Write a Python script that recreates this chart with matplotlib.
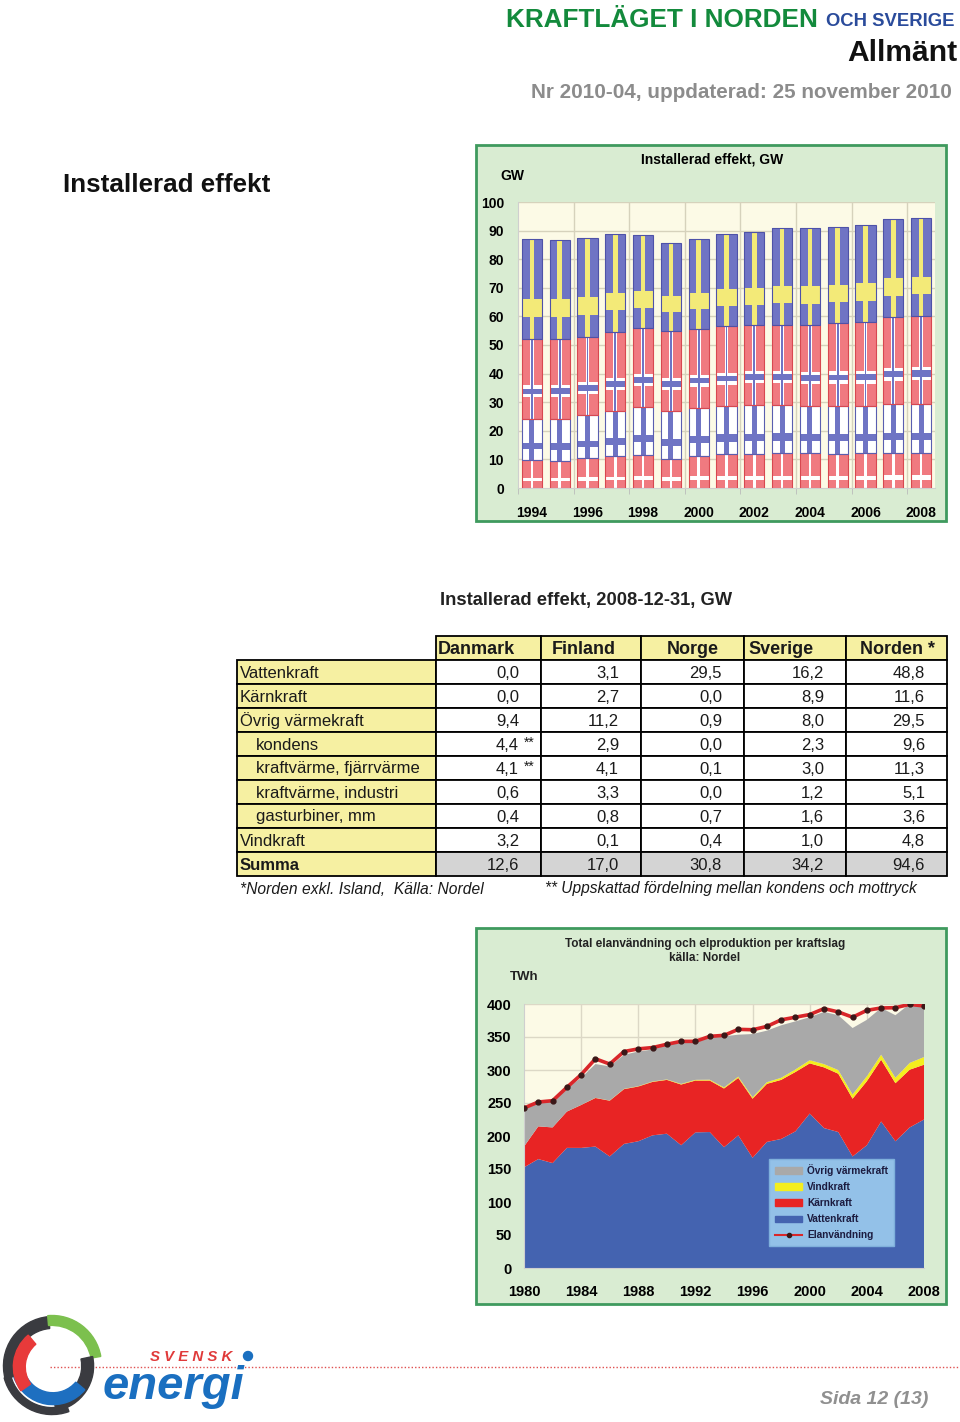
import numpy as np
import matplotlib
matplotlib.use("Agg")
import matplotlib.pyplot as plt
from matplotlib import font_manager
from matplotlib.patches import Rectangle, Wedge, Circle
from matplotlib.lines import Line2D
from matplotlib.patches import Patch

plt.rcParams['font.family'] = ['Liberation Sans', 'DejaVu Sans']

names = {f.name for f in font_manager.fontManager.ttflist}
if 'Liberation Sans Narrow' in names:
    narrow = ['Liberation Sans Narrow', 'DejaVu Sans']
    tsize = 15.5
else:
    narrow = ['Liberation Sans', 'DejaVu Sans']
    tsize = 12

# --- installed capacity per country (GW), 1994-2008
bar_years = np.arange(1994, 2009)
danmark_gw = np.array([9.9, 9.6, 10.4, 11.1, 11.7, 10.3, 11.2, 11.9, 11.9, 12.1, 12.1, 12.0, 12.1, 12.2, 12.3])
finland_gw = np.array([14.2, 14.6, 15.0, 15.7, 16.5, 16.5, 16.8, 16.7, 17.2, 17.0, 16.5, 16.6, 16.5, 17.2, 17.1])
norge_gw = np.array([28.0, 27.9, 27.5, 27.7, 27.7, 28.0, 27.6, 27.9, 27.9, 28.0, 28.4, 29.0, 29.4, 30.3, 30.8])
sverige_gw = np.array([35.1, 34.7, 34.6, 34.4, 32.4, 31.0, 31.5, 32.3, 32.4, 33.7, 33.8, 33.5, 34.1, 34.5, 34.3])

# --- table, 2008-12-31
table_cols = ['Danmark', 'Finland', 'Norge', 'Sverige', 'Norden *']
table_rows = ['Vattenkraft', 'Kärnkraft', 'Övrig värmekraft', 'kondens',
              'kraftvärme, fjärrvärme', 'kraftvärme, industri', 'gasturbiner, mm',
              'Vindkraft', 'Summa']
tab_danmark = [0.0, 0.0, 9.4, 4.4, 4.1, 0.6, 0.4, 3.2, 12.6]
tab_finland = [3.1, 2.7, 11.2, 2.9, 4.1, 3.3, 0.8, 0.1, 17.0]
tab_norge = [29.5, 0.0, 0.9, 0.0, 0.1, 0.0, 0.7, 0.4, 30.8]
tab_sverige = [16.2, 8.9, 8.0, 2.3, 3.0, 1.2, 1.6, 1.0, 34.2]
tab_norden = [48.8, 11.6, 29.5, 9.6, 11.3, 5.1, 3.6, 4.8, 94.6]

# --- production per source and consumption (TWh), 1980-2008
area_years = np.arange(1980, 2009)
vattenkraft = [152.5, 165, 159, 182, 182, 184, 169, 188, 192, 201, 203.5, 186, 205.5, 206, 183,
               201, 167, 191, 195.5, 207, 234, 212, 206, 169, 186, 222, 192, 213, 225]
karnkraft = [31.5, 49.6, 54, 55, 65, 73.6, 84.5, 83, 83, 81, 81.5, 92, 78.5, 78, 89,
             87, 89.5, 88, 89.5, 90, 76, 92, 88.4, 87.5, 97, 93.6, 88, 87.5, 83]
vindkraft = [0, 0, 0, 0, 0.1, 0.2, 0.3, 0.4, 0.5, 0.6, 0.7, 0.9, 1.1, 1.3, 1.6,
             1.9, 2.2, 2.5, 3.2, 3.8, 4.8, 4.9, 5.5, 6.4, 7.5, 7.6, 8.2, 10.2, 11.6]
ovrig = [56, 35.4, 39.5, 35.7, 40.9, 51.2, 51.7, 51.6, 52.5, 48.4, 52.3, 62.1, 55.9, 65.7, 77.4,
         63.6, 95.8, 78.1, 79.5, 72.9, 65.2, 79.1, 83.1, 100.7, 85.5, 70.8, 94.8, 89.3, 76.4]
elanvandning = [242.4, 251.5, 253.5, 273.7, 293, 317, 309, 328, 332, 334, 339, 343.4, 343.4, 351, 352.5,
                361.6, 361, 366, 376, 380, 384, 393, 388, 380, 390.4, 394, 394.4, 399.5, 397]

W, H = 960, 1422
fig = plt.figure(figsize=(W / 100, H / 100), dpi=100)


def box(x0, y0, x1, y1):
    return [x0 / W, 1 - y1 / H, (x1 - x0) / W, (y1 - y0) / H]


def fit(t, target):
    # scale a text so that it takes the given width in pixels
    r = fig.canvas.get_renderer()
    w = t.get_window_extent(r).width
    t.set_fontsize(t.get_fontsize() * target / w)


page = fig.add_axes([0, 0, 1, 1])
page.set_xlim(0, W)
page.set_ylim(H, 0)
page.axis('off')

# header
page.text(955, 22, 'OCH SVERIGE', color='#2a4b9b', fontsize=13.3, fontweight='bold', ha='right', va='center')
page.text(818, 20, 'KRAFTLÄGET I NORDEN', color='#138a3c', fontsize=18.8, fontweight='bold', ha='right', va='center')
page.text(957, 53, 'Allmänt', color='#111111', fontsize=21.6, fontweight='bold', ha='right', va='center')
page.text(952, 92, 'Nr 2010-04, uppdaterad: 25 november 2010', color='#8c8c8c', fontsize=14.9,
          fontweight='bold', ha='right', va='center')
page.text(63, 185, 'Installerad effekt', color='#111111', fontsize=18.7, fontweight='bold', ha='left', va='center')

# chart frames
for y0, y1 in [(145, 521), (928, 1304)]:
    page.add_patch(Rectangle((476, y0), 470, y1 - y0, facecolor='#d9ecd2', edgecolor='#3f9a5e', lw=2))

# ---------------- top chart: flags
ax1 = fig.add_axes(box(518, 202, 935, 488))
ax1.set_facecolor('#fcfae6')
bw = 0.73


def flag(bottom, vals, base, cross, h0, h1, vw, edge, inner=None):
    ax1.bar(bar_years, vals, bw, bottom=bottom, color=base, lw=0, zorder=2)
    ax1.bar(bar_years, vals * (h1 - h0), bw, bottom=bottom + vals * h0, color=cross, lw=0, zorder=2)
    ax1.bar(bar_years, vals, bw * vw, bottom=bottom, color=cross, lw=0, zorder=2)
    if inner:
        c, i0, i1, iw = inner
        ax1.bar(bar_years, vals * (i1 - i0), bw, bottom=bottom + vals * i0, color=c, lw=0, zorder=2)
        ax1.bar(bar_years, vals, bw * iw, bottom=bottom, color=c, lw=0, zorder=2)
    ax1.bar(bar_years, vals, bw, bottom=bottom, fill=False, edgecolor=edge, lw=0.8, zorder=3)


red_f = '#f07a80'
blue_f = '#6f74c4'
b0 = np.zeros(len(bar_years))
flag(b0, danmark_gw, red_f, 'white', 0.24, 0.36, 0.12, '#d84850')
b1 = b0 + danmark_gw
flag(b1, finland_gw, 'white', blue_f, 0.26, 0.41, 0.25, '#5a5eb0')
b2 = b1 + finland_gw
flag(b2, norge_gw, red_f, 'white', 0.27, 0.42, 0.18, '#d84850', inner=(blue_f, 0.31, 0.38, 0.08))
b3 = b2 + norge_gw
flag(b3, sverige_gw, blue_f, '#f3ea78', 0.22, 0.40, 0.22, '#4e52a8')

ax1.set_xlim(1993.5, 2008.5)
ax1.set_ylim(0, 100)
ax1.set_yticks(np.arange(0, 101, 10))
ax1.set_xticks(bar_years[::2])
ax1.set_xticks(np.arange(1993.5, 2009, 2), minor=True)
ax1.grid(False)
for v in np.arange(10, 101, 10):
    ax1.axhline(v, color='#d6d2bc', lw=1, zorder=1)
for v in np.arange(1995.5, 2008, 2):
    ax1.axvline(v, color='#d6d2bc', lw=1, zorder=1)
ax1.tick_params(axis='both', which='major', labelsize=10, length=0, pad=10)
ax1.tick_params(axis='x', which='major', pad=13)
ax1.tick_params(axis='x', which='minor', length=4, color='#bbbbbb')
for lab in ax1.get_xticklabels() + ax1.get_yticklabels():
    lab.set_fontweight('bold')
for s in ['top', 'right']:
    ax1.spines[s].set_visible(False)
for s in ['left', 'bottom']:
    ax1.spines[s].set_color('#cfcfcf')
page.text(712, 160, 'Installerad effekt, GW', fontsize=10, fontweight='bold', ha='center', va='center')
page.text(512, 176, 'GW', fontsize=10, fontweight='bold', ha='center', va='center')

# ---------------- table
page.text(586, 600, 'Installerad effekt, 2008-12-31, GW', fontsize=13.2, fontweight='bold',
          ha='center', va='center', color='#222222')
col_edges = [237, 436, 541, 641, 744, 846, 947]
row_top = 636
row_h = 24
yellow = '#f6f0a2'
head_x = [438, 552, 667, 748, 860]
for j, name in enumerate(table_cols):
    page.add_patch(Rectangle((col_edges[j + 1], row_top), col_edges[j + 2] - col_edges[j + 1], row_h,
                             facecolor=yellow, edgecolor='black', lw=1.3))
    page.text(head_x[j], row_top + row_h / 2 + 1, name, fontsize=tsize + 1, fontweight='bold',
              family=narrow, ha='left', va='center', color='#1a1a1a')
cols = [tab_danmark, tab_finland, tab_norge, tab_sverige, tab_norden]
for i, rname in enumerate(table_rows):
    y = row_top + row_h * (i + 1)
    summa = rname == 'Summa'
    page.add_patch(Rectangle((col_edges[0], y), col_edges[1] - col_edges[0], row_h,
                             facecolor=yellow, edgecolor='black', lw=1.3))
    indent = 19 if 3 <= i <= 6 else 3
    page.text(col_edges[0] + indent, y + row_h / 2 + 1, rname, fontsize=tsize, family=narrow,
              fontweight='bold' if summa else 'normal', ha='left', va='center', color='#1a1a1a')
    for j, c in enumerate(cols):
        page.add_patch(Rectangle((col_edges[j + 1], y), col_edges[j + 2] - col_edges[j + 1], row_h,
                                 facecolor='#d4d4d4' if summa else 'white', edgecolor='black', lw=1.3))
        page.text(col_edges[j + 2] - 22, y + row_h / 2 + 1, f'{c[i]:.1f}'.replace('.', ','),
                  fontsize=tsize, family=narrow, ha='right', va='center', color='#1a1a1a')
    if rname in ('kondens', 'kraftvärme, fjärrvärme'):
        page.text(col_edges[2] - 17, y + row_h / 2 - 1, '**', fontsize=tsize - 2, family=narrow,
                  ha='left', va='center', color='#1a1a1a')
fn1 = page.text(240, 889, '*Norden exkl. Island,  Källa: Nordel', fontsize=12, family=narrow,
                style='italic', ha='left', va='center', color='#1a1a1a')
fn2 = page.text(545, 889, '** Uppskattad fördelning mellan kondens och mottryck', fontsize=12,
                family=narrow, style='italic', ha='left', va='center', color='#1a1a1a')
fit(fn1, 242)
fit(fn2, 372)

# ---------------- bottom chart: areas
ax2 = fig.add_axes(box(524, 1004, 924, 1268))
ax2.set_facecolor('#fcfae6')
for v in np.arange(50, 401, 50):
    ax2.axhline(v, color='#dcd8c6', lw=1, zorder=0)
for v in np.arange(1984, 2008, 4):
    ax2.axvline(v, color='#dcd8c6', lw=1, zorder=0)
ax2.stackplot(area_years, vattenkraft, karnkraft, vindkraft, ovrig,
              colors=['#4463b0', '#e82424', '#f4ee1e', '#a9a9a9'], lw=0, zorder=2)
ax2.plot(area_years, elanvandning, color='#d9262a', lw=2.6, zorder=3)
ax2.plot(area_years, elanvandning, 'o', color='#3a1818', ms=3.5, zorder=4)
ax2.set_xlim(1980, 2008)
ax2.set_ylim(0, 400)
ax2.set_xticks(np.arange(1980, 2009, 4))
ax2.set_yticks(np.arange(0, 401, 50))
ax2.tick_params(axis='both', labelsize=10.5, length=0, pad=9)
ax2.tick_params(axis='x', pad=12)
for lab in ax2.get_xticklabels() + ax2.get_yticklabels():
    lab.set_fontweight('bold')
for s in ['top', 'right']:
    ax2.spines[s].set_visible(False)
for s in ['left', 'bottom']:
    ax2.spines[s].set_color('#cfcfcf')
handles = [Patch(color='#a9a9a9', label='Övrig värmekraft'),
           Patch(color='#f4ee1e', label='Vindkraft'),
           Patch(color='#e82424', label='Kärnkraft'),
           Patch(color='#4463b0', label='Vattenkraft'),
           Line2D([], [], color='#d9262a', lw=1.5, marker='o', ms=3, mfc='#3a1818',
                  mec='#3a1818', label='Elanvändning')]
leg = ax2.legend(handles=handles, loc='lower right', bbox_to_anchor=(894 / W, 1 - 1246 / H),
                 bbox_transform=fig.transFigure, fontsize=7.3, frameon=True, fancybox=False,
                 handlelength=2.7, handleheight=0.6, labelspacing=0.6, borderpad=0.55,
                 handletextpad=0.5, borderaxespad=0)
leg.get_frame().set_facecolor('#93c1e8')
leg.get_frame().set_edgecolor('#7fb0dc')
leg.get_frame().set_alpha(1)
for t in leg.get_texts():
    t.set_fontweight('bold')
    t.set_color('#1c1c40')
page.text(705, 944, 'Total elanvändning och elproduktion per kraftslag', fontsize=8.5,
          fontweight='bold', ha='center', va='center', color='#222222')
page.text(705, 958, 'källa: Nordel', fontsize=8.5, fontweight='bold', ha='center', va='center',
          color='#222222')
page.text(524, 977, 'TWh', fontsize=9.5, fontweight='bold', ha='center', va='center', color='#222222')

# ---------------- footer logo
page.plot([50, 960], [1367, 1367], color='#e05050', lw=1, ls=(0, (1, 1.5)))
page.text(150, 1357, 'S V E N S K', color='#e03a3a', fontsize=10.8, fontweight='bold', style='italic',
          ha='left', va='center')
page.add_patch(Circle((248, 1356), 4.5, color='#1a6fc0'))
page.text(103, 1387, 'energi', color='#1a6fc0', fontsize=34, fontweight='bold', style='italic',
          ha='left', va='center')
page.text(928, 1400, 'Sida 12 (13)', color='#909090', fontsize=14, fontweight='bold', style='italic',
          ha='right', va='center')

logo = fig.add_axes(box(0, 1312, 104, 1420))
logo.set_xlim(-1.05, 1.05)
logo.set_ylim(-1.05, 1.05)
logo.set_aspect('equal')
logo.axis('off')
logo.add_patch(Wedge((0.02, 0.0), 1.0, 95, 195, width=0.24, color='#3a3b40'))
logo.add_patch(Wedge((0.0, 0.02), 1.0, 10, 95, width=0.2, color='#7cc04e'))
logo.add_patch(Wedge((-0.08, 0.0), 0.92, -80, 12, width=0.24, color='#3a3b40'))
logo.add_patch(Wedge((0.0, 0.02), 1.0, 195, 290, width=0.14, color='#3a3b40'))
logo.add_patch(Wedge((0.02, 0.06), 0.84, 200, 320, width=0.24, color='#1e6fc0'))
logo.add_patch(Wedge((0.06, -0.02), 0.84, 130, 215, width=0.24, color='#e83a3a'))

fig.savefig('out.png', dpi=100)
